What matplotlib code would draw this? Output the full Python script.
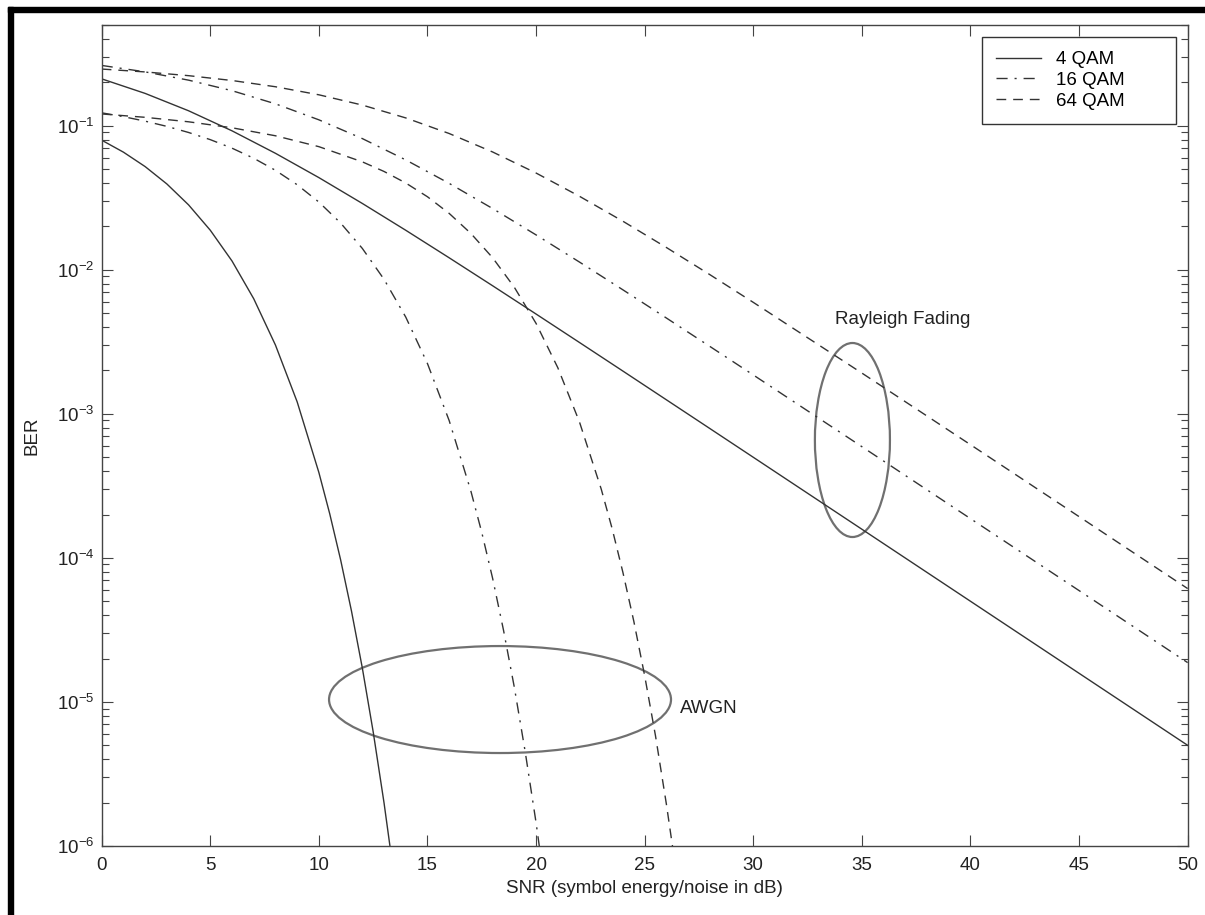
import numpy as np
import matplotlib
matplotlib.use('Agg')
import matplotlib.pyplot as plt
from matplotlib.patches import Ellipse, Rectangle
from matplotlib.ticker import LogLocator, NullFormatter, LogFormatterSciNotation

plt.rcParams['font.family'] = ['Liberation Sans', 'DejaVu Sans']
plt.rcParams['mathtext.fontset'] = 'custom'
plt.rcParams['mathtext.rm'] = 'Liberation Sans'
plt.rcParams['mathtext.it'] = 'Liberation Sans:italic'

# AWGN curves (SNR in dB, BER)
snr_awgn_4 = [0, 1, 2, 3, 4, 5, 6, 7, 8, 9, 10, 10.5, 11, 11.5, 12, 12.5, 13, 13.5, 14]
ber_awgn_4 = [0.0793, 0.0655, 0.0520, 0.0394, 0.0282, 0.0188, 0.0115, 0.00629, 0.00300,
              0.00121, 3.91e-4, 2.02e-4, 9.7e-5, 4.28e-5, 1.72e-5, 6.2e-6, 1.99e-6, 5.6e-7, 1.35e-7]

snr_awgn_16 = [0, 1, 2, 3, 4, 5, 6, 7, 8, 9, 10, 11, 12, 13, 14, 15, 16, 17, 17.5, 18,
               18.5, 19, 19.5, 20, 20.5, 21]
ber_awgn_16 = [0.1228, 0.1155, 0.1075, 0.0989, 0.0897, 0.0800, 0.0698, 0.0594, 0.0490,
               0.0389, 0.0295, 0.0211, 0.01406, 0.00858, 0.00469, 0.00223, 8.96e-4, 2.90e-4,
               1.50e-4, 7.2e-5, 3.15e-5, 1.26e-5, 4.5e-6, 1.45e-6, 4.1e-7, 9.8e-8]

snr_awgn_64 = [0, 2, 4, 6, 8, 10, 12, 13, 14, 15, 16, 17, 18, 19, 20, 21, 22, 23, 23.5,
               24, 24.5, 25, 25.5, 26, 26.5, 27]
ber_awgn_64 = [0.1206, 0.1143, 0.1064, 0.0967, 0.0851, 0.0715, 0.0561, 0.0481, 0.0400,
               0.0321, 0.0246, 0.01785, 0.01211, 0.00755, 0.00424, 0.00209, 8.76e-4, 3.0e-4,
               1.60e-4, 7.9e-5, 3.63e-5, 1.52e-5, 5.8e-6, 1.95e-6, 5.9e-7, 1.5e-7]

# Rayleigh fading curves
snr_ray = [0, 2, 4, 6, 8, 10, 12, 14, 16, 18, 20, 22, 24, 26, 28, 30, 35, 40, 45, 50]
ber_ray_4 = [0.2113, 0.1675, 0.1269, 0.0921, 0.0643, 0.0436, 0.02885, 0.01879, 0.01210,
             0.00774, 0.004926, 0.003125, 0.001979, 0.001251, 7.906e-4, 4.993e-4,
             1.581e-4, 5.0e-5, 1.581e-5, 5.0e-6]
ber_ray_16 = [0.2619, 0.2363, 0.2070, 0.1749, 0.1418, 0.1098, 0.08136, 0.05785, 0.03975,
              0.02659, 0.01745, 0.01130, 0.00725, 0.004623, 0.002937, 0.001861,
              5.915e-4, 1.873e-4, 5.93e-5, 1.875e-5]
ber_ray_64 = [0.2472, 0.2361, 0.2224, 0.2059, 0.1863, 0.1638, 0.1390, 0.1132, 0.08821,
              0.06567, 0.04691, 0.03234, 0.02170, 0.01427, 0.009249, 0.005938,
              0.001918, 6.106e-4, 1.934e-4, 6.122e-5]

labels = ['4 QAM', '16 QAM', '64 QAM']

line_col = '#333333'
solid = '-'
dashdot = (0, (8, 5, 1.5, 5))
dashed = (0, (7, 5))

fig = plt.figure(figsize=(12.05, 9.15), dpi=100)
ax = fig.add_axes([0.0844, 0.0754, 0.9012, 0.8973])

ax.semilogy(snr_ray, ber_ray_4, color=line_col, lw=1.0, ls=solid, label=labels[0])
ax.semilogy(snr_ray, ber_ray_16, color=line_col, lw=1.0, ls=dashdot, label=labels[1])
ax.semilogy(snr_ray, ber_ray_64, color=line_col, lw=1.0, ls=dashed, label=labels[2])
ax.semilogy(snr_awgn_4, ber_awgn_4, color=line_col, lw=1.0, ls=solid)
ax.semilogy(snr_awgn_16, ber_awgn_16, color=line_col, lw=1.0, ls=dashdot)
ax.semilogy(snr_awgn_64, ber_awgn_64, color=line_col, lw=1.0, ls=dashed)

ax.set_xlim(0, 50)
ax.set_ylim(1e-6, 0.5)
ax.set_xticks(np.arange(0, 51, 5))
ax.yaxis.set_major_locator(LogLocator(base=10, numticks=20))
ax.yaxis.set_minor_locator(LogLocator(base=10, subs=np.arange(2, 10) * 0.1, numticks=100))
ax.yaxis.set_major_formatter(LogFormatterSciNotation())
ax.yaxis.set_minor_formatter(NullFormatter())

ax.tick_params(which='both', direction='in', top=True, right=True,
               colors='#444444', labelcolor='#222222', labelsize=13.5, width=0.8)
ax.tick_params(which='major', length=8)
ax.tick_params(which='minor', length=5)
ax.tick_params(axis='x', pad=8)
ax.tick_params(axis='y', pad=5)
for s in ax.spines.values():
    s.set_color('#444444')
    s.set_linewidth(1.0)

ax.set_xlabel('SNR (symbol energy/noise in dB)', fontsize=13.5, color='#222222', labelpad=4)
ax.set_ylabel('BER', fontsize=13.5, color='#222222', labelpad=12)

# grouping ellipses and labels
ax.add_patch(Ellipse((0.3668, 0.1784), 0.3149, 0.1303, transform=ax.transAxes,
                     fill=False, ec='#707070', lw=1.6))
ax.add_patch(Ellipse((0.6913, 0.4945), 0.0691, 0.2363, transform=ax.transAxes,
                     fill=False, ec='#707070', lw=1.6))
ax.text(0.5325, 0.168, 'AWGN', transform=ax.transAxes, fontsize=13.5,
        color='#222222', va='center', ha='left')
ax.text(0.675, 0.641, 'Rayleigh Fading', transform=ax.transAxes, fontsize=13.5,
        color='#222222', va='center', ha='left')

# legend box stretched to the width used in the original
leg = ax.legend(loc='upper left', bbox_to_anchor=(0.8106, 0.0, 0.1786, 0.9854),
                mode='expand', borderaxespad=0,
                fontsize=13.5, fancybox=False, framealpha=1, edgecolor='#333333',
                handlelength=2.4, handletextpad=0.8, labelspacing=0.2, borderpad=0.75)
leg.get_frame().set_linewidth(1.0)

# black border on the left and top of the scanned figure
fig.patches.append(Rectangle((8 / 1205, 0), 5 / 1205, 1 - 7 / 915, transform=fig.transFigure,
                             color='black', zorder=10))
fig.patches.append(Rectangle((8 / 1205, 1 - 12 / 915), 1 - 8 / 1205, 5 / 915,
                             transform=fig.transFigure, color='black', zorder=10))

fig.savefig('out.png', dpi=100)
